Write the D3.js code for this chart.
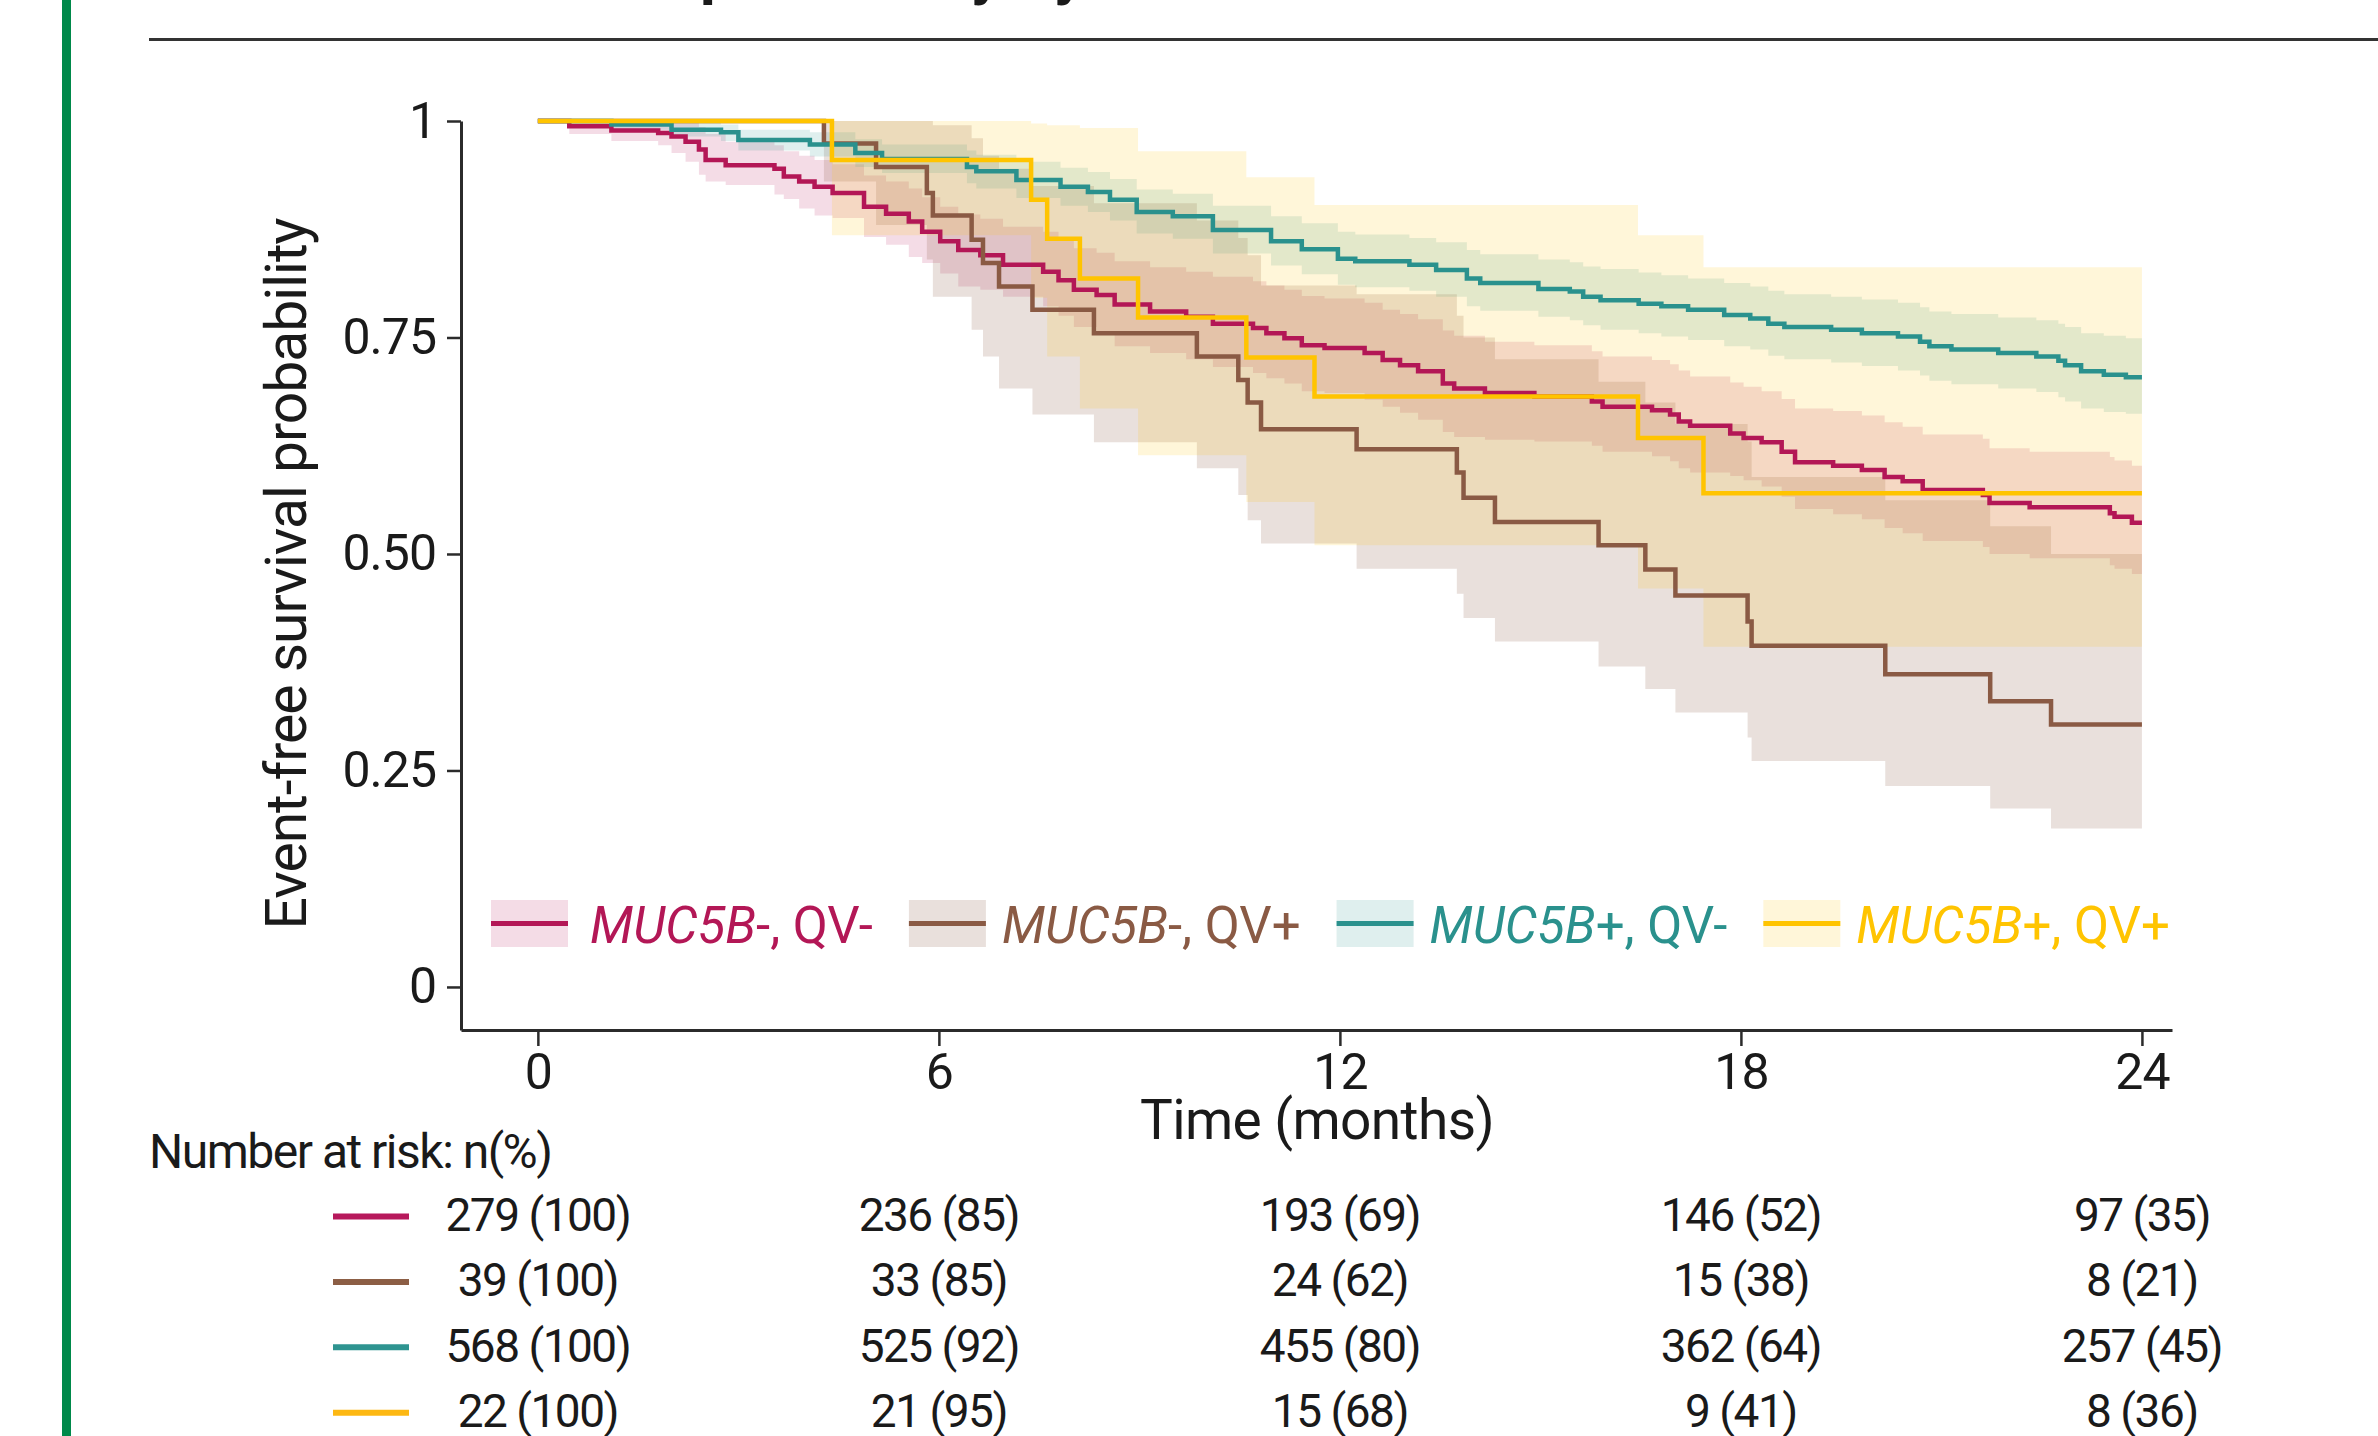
<!DOCTYPE html>
<html>
<head>
<meta charset="utf-8">
<script src="https://cdn.jsdelivr.net/npm/d3@7"></script>
<style>
  body { margin: 0; background: #fff; }
  svg { display: block; }
</style>
</head>
<body>
<script>
// groups and colours
var groupGene = ["MUC5B", "MUC5B", "MUC5B", "MUC5B"];
var groupRest = ["-, QV-", "-, QV+", "+, QV-", "+, QV+"];
var lineColors = ["#b31756", "#8a5a44", "#2a918d", "#ffc400"];
var riskColors = ["#b7195c", "#8c5e45", "#2e9490", "#fdb813"];
var bandOpacity = [0.15, 0.19, 0.15, 0.15];

// Kaplan-Meier steps: [month, survival, lower CI, upper CI]
var kmNegNeg = [
  [0, 1, 1, 1], [0.47, 0.994, 0.985, 1], [1.10, 0.989, 0.977, 1], [1.80, 0.986, 0.972, 1],
  [2.00, 0.982, 0.963, 1], [2.21, 0.976, 0.953, 0.998], [2.41, 0.967, 0.938, 0.993],
  [2.51, 0.955, 0.930, 0.985], [2.81, 0.949, 0.926, 0.976], [3.54, 0.945, 0.915, 0.972],
  [3.68, 0.936, 0.910, 0.965], [3.91, 0.930, 0.899, 0.960], [4.14, 0.924, 0.891, 0.955],
  [4.41, 0.917, 0.888, 0.950], [4.88, 0.901, 0.866, 0.937], [5.21, 0.893, 0.857, 0.930],
  [5.55, 0.884, 0.843, 0.922], [5.75, 0.872, 0.836, 0.912], [6.02, 0.861, 0.824, 0.901],
  [6.29, 0.851, 0.809, 0.892], [6.62, 0.845, 0.805, 0.887], [6.96, 0.834, 0.797, 0.878],
  [7.56, 0.826, 0.786, 0.872], [7.79, 0.816, 0.775, 0.864], [8.02, 0.805, 0.762, 0.853],
  [8.36, 0.799, 0.754, 0.848], [8.63, 0.788, 0.740, 0.838], [9.16, 0.780, 0.732, 0.831],
  [9.70, 0.774, 0.725, 0.826], [10.10, 0.766, 0.716, 0.820], [10.70, 0.761, 0.709, 0.815],
  [10.90, 0.755, 0.703, 0.810], [11.17, 0.749, 0.697, 0.805], [11.43, 0.741, 0.688, 0.798],
  [11.77, 0.738, 0.686, 0.795], [12.37, 0.732, 0.678, 0.790], [12.64, 0.724, 0.670, 0.782],
  [12.90, 0.718, 0.663, 0.777], [13.17, 0.711, 0.655, 0.771], [13.54, 0.697, 0.641, 0.758],
  [13.71, 0.691, 0.635, 0.752], [14.17, 0.686, 0.632, 0.745], [14.91, 0.682, 0.630, 0.741],
  [15.77, 0.676, 0.625, 0.734], [15.93, 0.670, 0.618, 0.728], [16.67, 0.666, 0.613, 0.724],
  [16.94, 0.661, 0.607, 0.719], [17.07, 0.653, 0.599, 0.712], [17.24, 0.648, 0.594, 0.705],
  [17.84, 0.639, 0.590, 0.698], [18.04, 0.634, 0.585, 0.693], [18.31, 0.629, 0.578, 0.688],
  [18.61, 0.618, 0.566, 0.679], [18.81, 0.606, 0.552, 0.668], [19.38, 0.602, 0.546, 0.665],
  [19.81, 0.597, 0.540, 0.660], [20.15, 0.589, 0.530, 0.652], [20.42, 0.584, 0.524, 0.647],
  [20.72, 0.574, 0.515, 0.638], [21.62, 0.568, 0.508, 0.633], [21.72, 0.559, 0.500, 0.622],
  [22.32, 0.554, 0.495, 0.618], [23.52, 0.547, 0.487, 0.612], [23.59, 0.543, 0.483, 0.608],
  [23.85, 0.536, 0.477, 0.602]
];
var kmNegPos = [
  [0, 1, 1, 1], [4.28, 0.974, 0.930, 1], [5.06, 0.947, 0.880, 1], [5.82, 0.917, 0.840, 1],
  [5.91, 0.891, 0.797, 0.995], [6.49, 0.863, 0.759, 0.980], [6.66, 0.836, 0.728, 0.960],
  [6.90, 0.809, 0.691, 0.945], [7.40, 0.782, 0.661, 0.925], [8.32, 0.755, 0.629, 0.905],
  [9.86, 0.728, 0.599, 0.885], [10.48, 0.701, 0.568, 0.865], [10.62, 0.675, 0.539, 0.845],
  [10.82, 0.644, 0.512, 0.810], [12.25, 0.621, 0.483, 0.800], [13.75, 0.594, 0.454, 0.775],
  [13.85, 0.565, 0.426, 0.750], [14.32, 0.537, 0.399, 0.725], [15.87, 0.510, 0.370, 0.699],
  [16.57, 0.482, 0.344, 0.675], [17.02, 0.452, 0.317, 0.650], [18.10, 0.422, 0.288, 0.630],
  [18.16, 0.394, 0.261, 0.589], [20.16, 0.361, 0.232, 0.562], [21.73, 0.330, 0.206, 0.532],
  [22.64, 0.303, 0.183, 0.500]
];
var kmPosNeg = [
  [0, 1, 1, 1], [1.10, 0.996, 0.990, 1], [2.00, 0.990, 0.982, 0.998], [2.74, 0.987, 0.977, 0.996],
  [3.00, 0.978, 0.966, 0.990], [4.07, 0.973, 0.959, 0.987], [4.75, 0.963, 0.947, 0.979],
  [5.15, 0.956, 0.940, 0.973], [6.42, 0.947, 0.928, 0.966], [6.56, 0.942, 0.922, 0.961],
  [7.16, 0.932, 0.911, 0.953], [7.82, 0.924, 0.902, 0.946], [8.23, 0.918, 0.895, 0.941],
  [8.56, 0.909, 0.885, 0.933], [8.96, 0.895, 0.870, 0.921], [9.50, 0.890, 0.864, 0.916],
  [10.10, 0.874, 0.847, 0.902], [10.97, 0.861, 0.833, 0.890], [11.43, 0.852, 0.823, 0.882],
  [11.97, 0.841, 0.811, 0.872], [12.23, 0.838, 0.808, 0.869], [13.04, 0.834, 0.804, 0.865],
  [13.44, 0.828, 0.797, 0.860], [13.90, 0.818, 0.786, 0.851], [14.10, 0.813, 0.781, 0.846],
  [14.97, 0.806, 0.774, 0.840], [15.44, 0.803, 0.770, 0.837], [15.64, 0.797, 0.764, 0.832],
  [15.90, 0.793, 0.759, 0.829], [16.47, 0.789, 0.755, 0.825], [16.81, 0.786, 0.751, 0.822],
  [17.21, 0.782, 0.747, 0.818], [17.75, 0.776, 0.740, 0.813], [18.14, 0.772, 0.736, 0.809],
  [18.41, 0.766, 0.729, 0.804], [18.65, 0.762, 0.725, 0.800], [19.35, 0.759, 0.721, 0.797],
  [19.81, 0.755, 0.717, 0.794], [20.35, 0.751, 0.712, 0.790], [20.68, 0.745, 0.706, 0.785],
  [20.82, 0.740, 0.700, 0.780], [21.15, 0.736, 0.696, 0.777], [21.85, 0.732, 0.691, 0.773],
  [22.42, 0.728, 0.687, 0.770], [22.75, 0.723, 0.681, 0.766], [22.85, 0.718, 0.676, 0.762],
  [23.09, 0.711, 0.668, 0.755], [23.43, 0.707, 0.664, 0.752], [23.76, 0.704, 0.662, 0.749]
];
var kmPosPos = [
  [0, 1, 1, 1], [4.40, 0.955, 0.868, 1], [7.38, 0.909, 0.796, 0.997], [7.62, 0.864, 0.728, 0.995],
  [8.11, 0.818, 0.668, 0.992], [8.98, 0.773, 0.614, 0.965], [10.60, 0.727, 0.560, 0.935],
  [11.62, 0.682, 0.510, 0.903], [16.46, 0.634, 0.460, 0.868], [17.44, 0.570, 0.393, 0.831]
];
var followUpEnd = 24;

// axes
var xTicks = [0, 6, 12, 18, 24];
var yTicks = [0, 0.25, 0.5, 0.75, 1];
var yTickLabels = ["0", "0.25", "0.50", "0.75", "1"];

// number at risk table
var riskTimes = [0, 6, 12, 18, 24];
var riskN = [[279, 236, 193, 146, 97], [39, 33, 24, 15, 8], [568, 525, 455, 362, 257], [22, 21, 15, 9, 8]];
var riskPct = [[100, 85, 69, 52, 35], [100, 85, 62, 38, 21], [100, 92, 80, 64, 45], [100, 95, 68, 41, 36]];

var FONT = "Roboto, 'Liberation Sans', sans-serif";
var INK = "#1a1a1a";
var W = 2378, H = 1436;

var svg = d3.select("body")
    .append("svg")
    .attr("width", W)
    .attr("height", H)
    .style("font-family", FONT);

svg.append("rect").attr("width", W).attr("height", H).style("fill", "#fff");

//green side bar and header rule
svg.append("rect")
    .attr("x", 62).attr("y", 0)
    .attr("width", 9).attr("height", H)
    .style("fill", "#00894a");

svg.append("line")
    .attr("x1", 149).attr("x2", W)
    .attr("y1", 39.5).attr("y2", 39.5)
    .style("stroke", "#333")
    .style("stroke-width", 3);

//panel title, mostly above the top edge (only descenders show)
svg.append("text")
    .attr("x", 149).attr("y", -7)
    .attr("letter-spacing", 0.6)
    .text("Event-free survival probability by MUC5B status")
    .style("font-size", "62px")
    .style("font-weight", 700)
    .style("fill", INK);

var x = d3.scaleLinear().domain([-1.15, 24.45]).range([461, 2172]);
var y = d3.scaleLinear().domain([-0.0497, 1]).range([1030, 121]);

var series = [kmNegNeg, kmNegPos, kmPosNeg, kmPosPos].map(function (rows) {
    var last = rows[rows.length - 1];
    return rows.concat([[followUpEnd, last[1], last[2], last[3]]]);
});

var band = d3.area()
    .curve(d3.curveStepAfter)
    .x(function (d) { return x(d[0]); })
    .y0(function (d) { return y(d[2]); })
    .y1(function (d) { return y(d[3]); });

var step = d3.line()
    .curve(d3.curveStepAfter)
    .x(function (d) { return x(d[0]); })
    .y(function (d) { return y(d[1]); });

//confidence bands
svg.append("g").selectAll("path")
    .data(series)
    .enter().append("path")
    .attr("d", band)
    .style("fill", function (d, i) { return lineColors[i]; })
    .style("fill-opacity", function (d, i) { return bandOpacity[i]; })
    .style("stroke", "none");

//survival curves
svg.append("g").selectAll("path")
    .data(series)
    .enter().append("path")
    .attr("d", step)
    .style("fill", "none")
    .style("stroke", function (d, i) { return lineColors[i]; })
    .style("stroke-width", 4.5);

//x axis
var xAxis = svg.append("g")
    .attr("transform", "translate(0,1030)")
    .call(d3.axisBottom(x).tickValues(xTicks).tickSize(16).tickSizeOuter(0).tickPadding(7));
xAxis.attr("font-family", FONT).attr("font-size", 50);
xAxis.select(".domain").style("stroke", "#2b2b2b").style("stroke-width", 3);
xAxis.selectAll(".tick line").style("stroke", "#2b2b2b").style("stroke-width", 2.5);
xAxis.selectAll(".tick text").style("fill", INK).attr("letter-spacing", -1);

//y axis
var yAxis = svg.append("g")
    .attr("transform", "translate(461,0)")
    .call(d3.axisLeft(y).tickValues(yTicks)
        .tickFormat(function (d, i) { return yTickLabels[i]; })
        .tickSize(14).tickSizeOuter(0).tickPadding(11));
yAxis.attr("font-family", FONT).attr("font-size", 50);
yAxis.select(".domain").style("stroke", "#2b2b2b").style("stroke-width", 3);
yAxis.selectAll(".tick line").style("stroke", "#2b2b2b").style("stroke-width", 2.5);
yAxis.selectAll(".tick text").style("fill", INK).attr("letter-spacing", -1);

//axis titles
svg.append("text")
    .attr("transform", "translate(306,574) rotate(-90)")
    .attr("text-anchor", "middle")
    .attr("letter-spacing", -1)
    .text("Event-free survival probability")
    .style("font-size", "57px")
    .style("fill", INK);

svg.append("text")
    .attr("x", 1317).attr("y", 1139)
    .attr("text-anchor", "middle")
    .attr("letter-spacing", -0.6)
    .text("Time (months)")
    .style("font-size", "55px")
    .style("fill", INK);

//legend inside the plot
var lx = 491;
groupGene.forEach(function (gene, i) {
    var item = svg.append("g").attr("transform", "translate(" + lx + ",0)");
    item.append("rect")
        .attr("x", 0).attr("y", 900)
        .attr("width", 77).attr("height", 47)
        .style("fill", lineColors[i])
        .style("fill-opacity", bandOpacity[i]);
    item.append("line")
        .attr("x1", 0).attr("x2", 77)
        .attr("y1", 923.5).attr("y2", 923.5)
        .style("stroke", lineColors[i])
        .style("stroke-width", 5);
    var label = item.append("text")
        .attr("x", i === 0 ? 99 : 93).attr("y", 943)
        .attr("letter-spacing", 0)
        .style("font-size", "51px")
        .style("fill", lineColors[i]);
    label.append("tspan").style("font-style", "italic").text(gene);
    label.append("tspan").text(groupRest[i]);
    lx += (i === 0 ? 99 : 93) + label.node().getComputedTextLength() + 36;
});

//number at risk table
svg.append("text")
    .attr("x", 149).attr("y", 1168)
    .attr("letter-spacing", -1.5)
    .text("Number at risk: n(%)")
    .style("font-size", "48px")
    .style("fill", INK);

riskN.forEach(function (row, i) {
    var base = 1231 + i * 65.4;
    svg.append("line")
        .attr("x1", 333).attr("x2", 409)
        .attr("y1", base - 14.5).attr("y2", base - 14.5)
        .style("stroke", riskColors[i])
        .style("stroke-width", 6);
    svg.append("g").selectAll("text")
        .data(row)
        .enter().append("text")
        .attr("x", function (d, j) { return x(riskTimes[j]); })
        .attr("y", base)
        .attr("text-anchor", "middle")
        .attr("letter-spacing", -1.5)
        .text(function (d, j) { return d + " (" + riskPct[i][j] + ")"; })
        .style("font-size", "46px")
        .style("fill", INK);
});
</script>
</body>
</html>
